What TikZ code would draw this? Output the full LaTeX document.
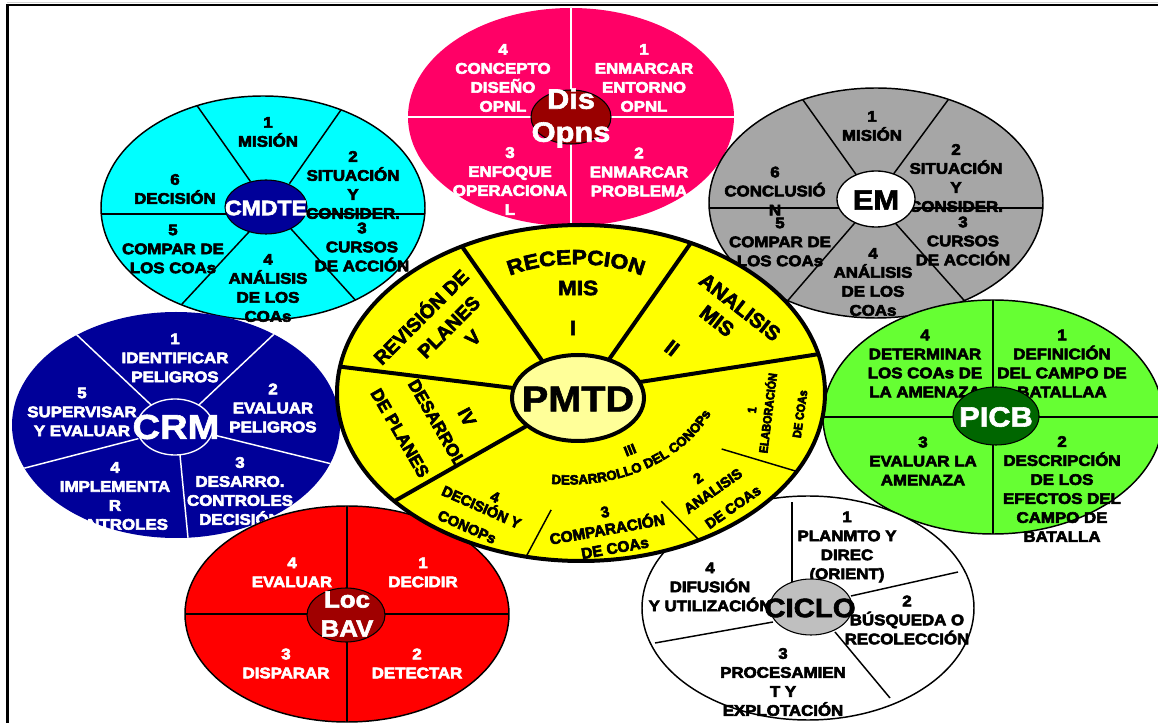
\documentclass[tikz,border=0pt]{standalone}
\usepackage{fontspec}
\newfontfamily\hvs{Liberation Sans Bold}[FakeStretch=1.1]
\newfontfamily\hvns{Liberation Sans Bold}
\newfontfamily\hvcs{Liberation Sans Bold}[FakeStretch=0.9]
\newcommand\hb{\special{pdf:literal direct 2 Tr 0.45 w}}
\newcommand\hv{\hvs\hb}
\newcommand\hvn{\hvns\hb}
\newcommand\hvc{\hvcs\hb}
\usetikzlibrary{calc,decorations.text}
\definecolor{pinkc}{HTML}{FF0066}
\definecolor{cyanc}{HTML}{00FFFF}
\definecolor{grayc}{HTML}{A6A6A6}
\definecolor{navyc}{HTML}{000099}
\definecolor{greenc}{HTML}{66FF33}
\definecolor{dgreenc}{HTML}{006600}
\definecolor{redc}{HTML}{FF0000}
\definecolor{dredc}{HTML}{990000}
\definecolor{dred2c}{HTML}{A00000}
\definecolor{yelc}{HTML}{FFFF00}
\definecolor{lyelc}{HTML}{FFFF99}
\definecolor{lgrayc}{HTML}{BFBFBF}
\tikzset{
  lbl/.style={font=\hvs\fontsize{11.5}{14.25}\selectfont\hb, align=center, inner sep=0pt, text=black},
  wlbl/.style={lbl, text=white},
  ctrl/.style={font=\hvs\fontsize{#1}{#1}\selectfont\hb, align=center, inner sep=0pt},
  pl/.style={font=\hvs\fontsize{#1}{#1}\selectfont\hb, inner sep=0pt, text=black},
  pln/.style={font=\hvns\fontsize{#1}{#1}\selectfont\hb, inner sep=0pt, text=black},
  plc/.style={font=\hvcs\fontsize{#1}{#1}\selectfont\hb, inner sep=0pt, text=black},
  thinline/.style={line width=1.1pt},
  spokeb/.style={black, line width=1.1pt},
  spokew/.style={white, line width=1.1pt},
  spokek/.style={black, line width=3pt},
}
\newcommand\spk[3][]{\draw[#1] ($(#2)!-0.05!(#3)$) -- ($(#3)!-0.2!(#2)$);}
\begin{document}
\begin{tikzpicture}[x=0.75pt,y=-0.75pt]
\useasboundingbox (0,0) rectangle (1158,723);
\fill[white] (0,0) rectangle (1158,723);
\draw[gray!35, line width=0.8pt] (7,2.6) -- (1158,2.6);
\draw[line width=2pt] (7.5,723) -- (7.5,5) -- (1158,5);

% ---------------- Dis Opns
\coordinate (dc) at (571,117);
\fill[pinkc] (dc) ellipse [x radius=163, y radius=109];
\begin{scope}
\clip (dc) ellipse [x radius=163, y radius=109];
\draw[spokew] (571,0) -- (571,240);
\draw[spokew] (400,117) -- (740,117);
\end{scope}
\node[wlbl] (d4) at (503,78) {4\\CONCEPTO\\DISEÑO\\OPNL};
\node[wlbl] (d1) at (644,78) {1\\ENMARCAR\\ENTORNO\\OPNL};
\node[wlbl] (d3) at (510,181) {3\\ENFOQUE\\OPERACIONA\\L};
\node[wlbl] (d2) at (639,172) {2\\ENMARCAR\\PROBLEMA};
\filldraw[fill=dredc, draw=black, line width=0.8pt] (dc) ellipse [x radius=40, y radius=27];
\node[font=\hvs\fontsize{21}{24.75}\selectfont\hb, align=center, inner sep=0pt, text=white] (dl) at (571,118) {Dis\\Opns};

% ---------------- CMDTE
\coordinate (cc) at (263,208);
\fill[cyanc] (cc) ellipse [x radius=162, y radius=112];
\begin{scope}
\clip (cc) ellipse [x radius=162, y radius=112];
\draw[spokeb] (90,214) -- (440,214);
\spk[spokeb]{248,178}{198,107}
\spk[spokeb]{292,180}{343,107}
\spk[spokeb]{248,233}{183,303}
\spk[spokeb]{292,230}{358,303}
\end{scope}
\draw[thinline] (cc) ellipse [x radius=162, y radius=112];
\node[lbl] (c1) at (268,132) {1\\MISIÓN};
\node[lbl] (c2) at (353,185) {2\\SITUACIÓN\\Y\\CONSIDER.};
\node[lbl] (c6) at (175,189) {6\\DECISIÓN};
\node[lbl] (c5) at (173,249) {5\\COMPAR DE\\LOS COAs};
\node[lbl] (c4) at (268,288) {4\\ANÁLISIS\\DE LOS\\COAs};
\node[lbl] (c3) at (362,247) {3\\CURSOS\\DE ACCIÓN};
\filldraw[fill=navyc, draw=black, line width=0.8pt] (266,207) ellipse [x radius=41, y radius=27];
\node[ctrl=15.7, text=white] (cl) at (266,208) {CMDTE};

% ---------------- EM
\coordinate (ec) at (876,203);
\fill[grayc] (ec) ellipse [x radius=167, y radius=115];
\begin{scope}
\clip (ec) ellipse [x radius=167, y radius=115];
\draw[spokeb] (700,208) -- (1050,208);
\spk[spokeb]{855,173}{803,100}
\spk[spokeb]{895,172}{948,100}
\spk[spokeb]{853,225}{790,298}
\spk[spokeb]{897,225}{962,298}
\end{scope}
\draw[thinline] (ec) ellipse [x radius=167, y radius=115];
\node[lbl] (e1) at (872,126) {1\\MISIÓN};
\node[lbl] (e2) at (956,178) {2\\SITUACIÓN\\Y\\CONSIDER.};
\node[lbl] (e6) at (775,191) {6\\CONCLUSIÓ\\N};
\node[lbl] (e5) at (780,242) {5\\COMPAR DE\\LOS COAs};
\node[lbl] (e4) at (873,282) {4\\ANÁLISIS\\DE LOS\\COAs};
\node[lbl] (e3) at (963,241) {3\\CURSOS\\DE ACCIÓN};
\filldraw[fill=white, draw=black, line width=1pt] (876,199) ellipse [x radius=39, y radius=28];
\node[ctrl=21] (el) at (876,200) {EM};

% ---------------- CRM
\coordinate (rc) at (176,425);
\fill[navyc] (rc) ellipse [x radius=164, y radius=113];
\begin{scope}
\clip (rc) ellipse [x radius=164, y radius=113];
\spk[spokew]{148,402}{78,336}
\spk[spokew]{202,402}{272,336}
\spk[spokew]{222,437}{332,464}
\spk[spokew]{180,455}{188,538}
\spk[spokew]{133,440}{25,468}
\end{scope}
\node[wlbl] (r1) at (175,358) {1\\IDENTIFICAR\\PELIGROS};
\node[wlbl] (r2) at (273,408) {2\\EVALUAR\\PELIGROS};
\node[wlbl] (r5) at (82,412) {5\\SUPERVISAR\\Y EVALUAR};
\node[wlbl] (r4) at (115,496) {4\\IMPLEMENTA\\R\\CONTROLES};
\node[wlbl] (r3) at (240,491) {3\\DESARRO.\\CONTROLES\\DECISIÓN};
\filldraw[fill=navyc, draw=white, line width=1pt] (175,427) ellipse [x radius=38, y radius=28];
\node[ctrl=26, text=white] (rl) at (176,427) {CRM};

% ---------------- PICB
\coordinate (gc) at (993,417);
\fill[greenc] (gc) ellipse [x radius=170, y radius=117];
\begin{scope}
\clip (gc) ellipse [x radius=170, y radius=117];
\draw[spokeb] (993,290) -- (993,545);
\draw[spokeb] (815,417) -- (1170,417);
\end{scope}
\draw[thinline] (gc) ellipse [x radius=170, y radius=117];
\node[lbl] (g4) at (925,363.5) {4\\DETERMINAR\\LOS COAs DE\\LA AMENAZA};
\node[lbl] (g1) at (1062,363.5) {1\\DEFINICIÓN\\DEL CAMPO DE\\BATALLAA};
\node[lbl] (g3) at (923,461) {3\\EVALUAR LA\\AMENAZA};
\node[lbl] (g2) at (1062,489) {2\\DESCRIPCIÓN\\DE LOS\\EFECTOS DEL\\CAMPO DE\\BATALLA};
\filldraw[fill=dgreenc, draw=black, line width=0.8pt] (996,416) ellipse [x radius=43, y radius=29];
\node[ctrl=21, text=white] (gl) at (996,417) {PICB};

% ---------------- Loc BAV
\coordinate (bc) at (347,614);
\fill[redc] (bc) ellipse [x radius=162, y radius=108];
\begin{scope}
\clip (bc) ellipse [x radius=162, y radius=108];
\draw[spokeb] (347,500) -- (347,730);
\draw[spokeb] (180,614) -- (515,614);
\end{scope}
\draw[thinline] (bc) ellipse [x radius=162, y radius=108];
\node[wlbl] (b4) at (292,572.5) {4\\EVALUAR};
\node[wlbl] (b1) at (423,572.5) {1\\DECIDIR};
\node[wlbl] (b3) at (286,663.5) {3\\DISPARAR};
\node[wlbl] (b2) at (417,663.5) {2\\DETECTAR};
\filldraw[fill=dred2c, draw=black, line width=0.8pt] (346,615) ellipse [x radius=39, y radius=27];
\node[font=\hvs\fontsize{17.6}{21.75}\selectfont\hb, align=center, inner sep=0pt, text=white] (bl) at (347,614) {Loc\\BAV};

% ---------------- CICLO
\coordinate (ic) at (808,608);
\filldraw[fill=white, draw=black, thinline] (ic) ellipse [x radius=166, y radius=112];
\draw[spokeb] (792,582) -- (792,502);
\draw[spokeb] (851,596) -- (958,572);
\draw[spokeb] (835,632) -- (890,698);
\draw[spokeb] (773,622) -- (655,643);
\node[lbl] (i1) at (847,547) {1\\PLANMTO Y\\DIREC\\(ORIENT)};
\node[lbl] (i2) at (907,620) {2\\BÚSQUEDA O\\RECOLECCIÓN};
\node[lbl] (i4) at (710,587) {4\\DIFUSIÓN\\Y UTILIZACIÓN};
\node[lbl] (i3) at (783,682) {3\\PROCESAMIEN\\T Y\\EXPLOTACIÓN};
\filldraw[fill=lgrayc, draw=black, line width=0.8pt] (811,607) ellipse [x radius=41, y radius=28];
\node[ctrl=20] (il) at (810,608) {CICLO};

% ---------------- PMTD
\coordinate (pc) at (581,393);
\fill[yelc] (pc) ellipse [x radius=244, y radius=168];
\begin{scope}
\clip (pc) ellipse [x radius=244, y radius=168];
\spk[spokek]{543,362}{463,248}
\spk[spokek]{610,358}{688,247}
\spk[spokek]{640,382}{813,355}
\spk[spokek]{513,388}{343,367}
\spk[spokek]{523,428}{400,498}
\spk[spokeb]{725,450}{792,470}
\spk[spokeb]{663,503}{697,538}
\spk[spokeb]{550,512}{527,555}
\end{scope}
\draw[line width=3pt] (pc) ellipse [x radius=244, y radius=168];
\path[decorate, decoration={text along path, text align=center, text={|\hvs\fontsize{15.5}{15.5}\selectfont\hb|RECEPCION}}] (495,283) .. controls (537,258) and (615,258) .. (657,283);
\node[pl=15.5] (p1a) at (578,288) {MIS};
\node[pl=15.5] (p1b) at (573,328) {I};
\node[pln=15.5, rotate=-38] (p2a) at (740,307) {ANALISIS};
\node[pln=15.5, rotate=-38] (p2b) at (717,321) {MIS};
\node[pln=15.5, rotate=-38] (p2c) at (672,348) {II};
\node[pln=14.5, rotate=45] (p5a) at (420,316) {REVISIÓN DE};
\node[pln=14.5, rotate=45] (p5b) at (449,327) {PLANES};
\node[pln=14.5, rotate=45] (p5c) at (473,338) {V};
\node[pln=14, rotate=-62] (p4a) at (467,417) {IV};
\node[pln=13, rotate=-60] (p4b) at (437,423) {DESARROL};
\node[pln=13, rotate=-60] (p4c) at (400,433) {DE PLANES};
\node[pln=10.5, rotate=22] (p3a) at (630,450) {III};
\path[decorate, decoration={text along path, text align=center, text={|\hvns\fontsize{10}{10}\selectfont\hb|DESARROLLO DEL CONOPs}}] (530,481) .. controls (612,496) and (696,462) .. (720,394);
\node[plc=9, rotate=83] (q1a) at (752,410) {1};
\node[plc=9, rotate=83] (q1b) at (767,413) {ELABORACIÓN};
\node[plc=9, rotate=82] (q1c) at (800,414) {DE COAs};
\node[pln=10.8, rotate=35] (q2a) at (698,478) {2};
\node[pln=10.8, rotate=35] (q2b) at (713,491) {ANALISIS};
\node[pln=10.8, rotate=35] (q2c) at (733,507) {DE COAs};
\node[pln=11.5, rotate=10] (q3a) at (605,512) {3};
\node[pln=11.5, rotate=10] (q3b) at (607,528) {COMPARACIÓN};
\node[pln=11.5, rotate=10] (q3c) at (615,548) {DE COAs};
\node[pln=11, rotate=-22] (q4a) at (495,497) {4};
\node[pln=11, rotate=-24] (q4b) at (482,506) {DECISIÓN Y};
\node[pln=11, rotate=-24] (q4c) at (467,527) {CONOPs};
\filldraw[fill=lyelc, draw=black, line width=3pt] (578,398) ellipse [x radius=66, y radius=43];
\node[ctrl=27] (pl) at (578,399) {PMTD};
\end{tikzpicture}
\end{document}
